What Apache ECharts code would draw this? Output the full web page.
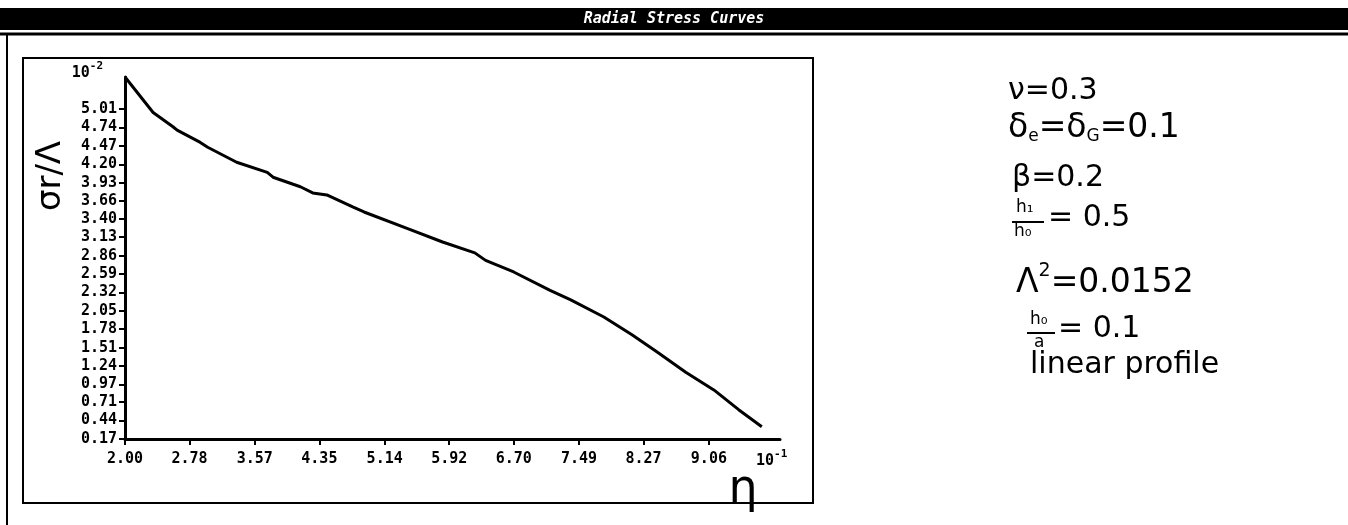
<!DOCTYPE html>
<html>
<head>
<meta charset="utf-8">
<title>Radial Stress Curves</title>
<script src="https://cdn.jsdelivr.net/npm/echarts@6/dist/echarts.min.js"></script>
<style>
  html, body { margin: 0; padding: 0; background: #fff; }
  #chart { width: 1348px; height: 525px; }
</style>
</head>
<body>
<div id="chart"></div>
<script>
// Radial coordinate η (in units of 10^-1)
const etaValues = [2.00, 2.34, 2.58, 2.63, 2.91, 3.00, 3.35, 3.72, 3.79, 4.12, 4.27, 4.44, 4.76, 4.89,
  5.41, 5.84, 6.23, 6.36, 6.70, 7.14, 7.39, 7.79, 8.13, 8.43, 8.78, 9.12, 9.42, 9.70];
// Radial stress σr/Λ (in units of 10^-2)
const stressValues = [5.48, 4.96, 4.75, 4.70, 4.52, 4.45, 4.23, 4.08, 4.01, 3.87, 3.78, 3.75, 3.57, 3.50,
  3.26, 3.06, 2.90, 2.79, 2.62, 2.35, 2.21, 1.96, 1.70, 1.45, 1.15, 0.89, 0.60, 0.35];

const xTickLabels = ['2.00', '2.78', '3.57', '4.35', '5.14', '5.92', '6.70', '7.49', '8.27', '9.06'];
const yTickLabels = ['0.17', '0.44', '0.71', '0.97', '1.24', '1.51', '1.78', '2.05', '2.32', '2.59',
  '2.86', '3.13', '3.40', '3.66', '3.93', '4.20', '4.47', '4.74', '5.01'];

const xTickValues = xTickLabels.map(Number);
const yTickValues = yTickLabels.map(Number);

function labelFor(values, labels) {
  return function (v) {
    let best = 0;
    for (let i = 1; i < values.length; i++) {
      if (Math.abs(values[i] - v) < Math.abs(values[best] - v)) best = i;
    }
    return labels[best];
  };
}

const tickFont = {
  fontFamily: 'DejaVu Sans Mono',
  fontWeight: 'bold',
  fontSize: 15,
  color: '#000'
};
const handFont = 'DejaVu Sans';
const expRich = {
  b: { fontFamily: 'DejaVu Sans Mono', fontWeight: 'bold', fontSize: 15, color: '#000', verticalAlign: 'bottom', lineHeight: 20 },
  s: { fontFamily: 'DejaVu Sans Mono', fontWeight: 'bold', fontSize: 11, color: '#000', verticalAlign: 'top', lineHeight: 20 }
};

const chart = echarts.init(document.getElementById('chart'), null, { renderer: 'canvas' });

// Right-hand parameter notes
const noteX = 1008;
function note(x, y, text, rich) {
  return { type: 'text', left: x, top: y, style: { text: text, fill: '#000', rich: rich } };
}
const big = { fontFamily: handFont, fontSize: 30, color: '#000', verticalAlign: 'bottom', lineHeight: 36 };
const wide = { fontFamily: handFont, fontSize: 33, color: '#000', verticalAlign: 'bottom', lineHeight: 38 };
const sub = { fontFamily: handFont, fontSize: 17, color: '#000', verticalAlign: 'bottom', lineHeight: 32 };
const sup = { fontFamily: handFont, fontSize: 19, color: '#000', verticalAlign: 'top', lineHeight: 38 };
const small = '17px "' + handFont + '"';

const option = {
  animation: false,
  backgroundColor: '#fff',
  grid: { left: 125, right: 568, top: 77, bottom: 86, containLabel: false },
  xAxis: {
    type: 'value',
    min: 2,
    max: 9.92,
    name: '{b|10}{s|-1}',
    nameLocation: 'end',
    nameGap: -24,
    nameTextStyle: { rich: expRich, align: 'left', verticalAlign: 'top', padding: [10, 0, 0, 0] },
    axisLine: { show: true, onZero: false, lineStyle: { color: '#000', width: 3 } },
    axisTick: { show: true, inside: false, length: 6, customValues: xTickValues, lineStyle: { color: '#000', width: 2 } },
    axisLabel: { customValues: xTickValues, formatter: labelFor(xTickValues, xTickLabels), margin: 13, ...tickFont },
    splitLine: { show: false }
  },
  yAxis: {
    type: 'value',
    min: 0.17,
    max: 5.48,
    name: '{b|10}{s|-2}',
    nameLocation: 'end',
    nameGap: -4,
    nameTextStyle: { rich: expRich, align: 'right', verticalAlign: 'bottom', padding: [0, 22, 0, 0] },
    axisLine: { show: true, onZero: false, lineStyle: { color: '#000', width: 3 } },
    axisTick: { show: true, inside: false, length: 6, customValues: yTickValues, lineStyle: { color: '#000', width: 2 } },
    axisLabel: { customValues: yTickValues, formatter: labelFor(yTickValues, yTickLabels), margin: 8, ...tickFont },
    splitLine: { show: false }
  },
  series: [{
    type: 'line',
    data: etaValues.map((x, i) => [x, stressValues[i]]),
    showSymbol: false,
    smooth: false,
    lineStyle: { color: '#000', width: 3 },
    itemStyle: { color: '#000' }
  }],
  graphic: [
    // title band
    { type: 'rect', shape: { x: 0, y: 8, width: 1348, height: 22 }, style: { fill: '#000' }, silent: true },
    { type: 'text', x: 674, y: 19, style: { text: 'Radial Stress Curves', fill: '#fff', font: 'italic bold 15px "DejaVu Sans Mono"', align: 'center', verticalAlign: 'middle' } },
    // page frame
    { type: 'line', shape: { x1: 0, y1: 34, x2: 1348, y2: 34 }, style: { stroke: '#000', lineWidth: 3 } },
    { type: 'line', shape: { x1: 7, y1: 34, x2: 7, y2: 525 }, style: { stroke: '#000', lineWidth: 2 } },
    // plot box
    { type: 'rect', shape: { x: 23, y: 58, width: 790, height: 445 }, style: { fill: 'none', stroke: '#000', lineWidth: 2 } },
    // axis titles
    { type: 'text', x: 51, y: 176, rotation: Math.PI / 2,
      style: { text: 'σr/Λ', font: '34px "' + handFont + '"', fill: '#000', align: 'center', verticalAlign: 'middle' } },
    { type: 'text', x: 743, y: 490,
      style: { text: 'η', font: '46px "' + handFont + '"', fill: '#000', align: 'center', verticalAlign: 'middle' } },
    // parameters
    note(noteX, 76, '{b|ν=0.3}', { b: big }),
    note(noteX, 112, '{w|δ}{s|e}{w|=δ}{s|G}{w|=0.1}', { w: wide, s: sub }),
    note(noteX + 4, 163, '{b|β=0.2}', { b: big }),
    { type: 'text', left: noteX + 8, top: 199, style: { text: 'h₁', font: small, fill: '#000' } },
    { type: 'line', shape: { x1: noteX + 4, y1: 222, x2: noteX + 36, y2: 222 }, style: { stroke: '#000', lineWidth: 2 } },
    { type: 'text', left: noteX + 6, top: 223, style: { text: 'h₀', font: small, fill: '#000' } },
    note(noteX + 40, 203, '{b|= 0.5}', { b: big }),
    note(noteX + 8, 262, '{w|Λ}{p|2}{w|=0.0152}', { w: wide, p: sup }),
    { type: 'text', left: noteX + 22, top: 311, style: { text: 'h₀', font: small, fill: '#000' } },
    { type: 'line', shape: { x1: noteX + 19, y1: 333, x2: noteX + 47, y2: 333 }, style: { stroke: '#000', lineWidth: 2 } },
    { type: 'text', left: noteX + 26, top: 334, style: { text: 'a', font: small, fill: '#000' } },
    note(noteX + 50, 314, '{b|= 0.1}', { b: big }),
    note(noteX + 22, 350, '{b|linear profile}', { b: big })
  ]
};

chart.setOption(option);
</script>
</body>
</html>
